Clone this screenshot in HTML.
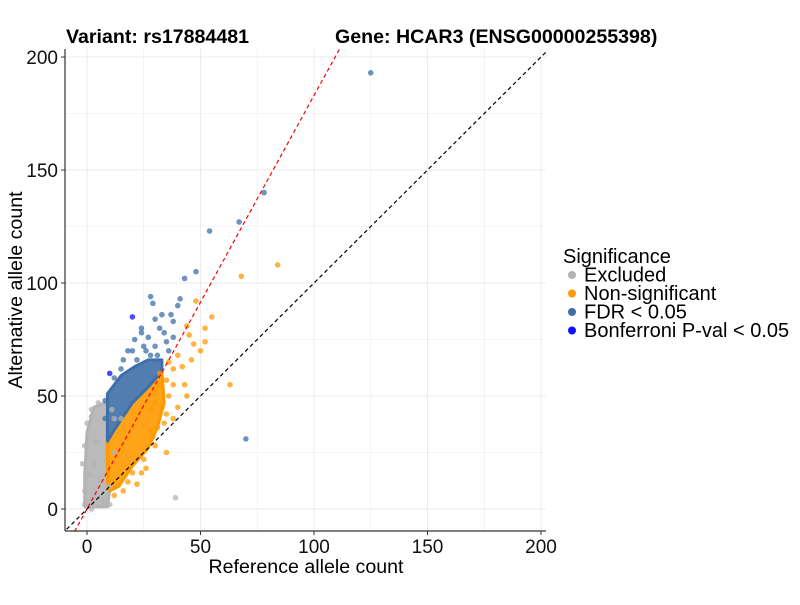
<!DOCTYPE html>
<html><head><meta charset="utf-8"><style>
body{margin:0;background:#fff;font-family:"Liberation Sans",sans-serif}
svg text{font-family:"Liberation Sans",sans-serif}
</style></head><body>
<svg id="c" width="800" height="600" xmlns="http://www.w3.org/2000/svg">
<rect width="800" height="600" fill="#fff"/>
<g id="grid"></g>
<g id="blobs"></g>
<g id="pts"></g>
<g id="lines"></g>
<line x1="65" y1="49" x2="65" y2="531" stroke="#333" stroke-width="1.2"/>
<line x1="65" y1="531" x2="546" y2="531" stroke="#333" stroke-width="1.2"/>
<g id="ticks"></g>
<text x="66" y="43" font-size="19.6" font-weight="bold">Variant: rs17884481</text>
<text x="335" y="43" font-size="19.6" font-weight="bold">Gene: HCAR3 (ENSG00000255398)</text>
<text x="306" y="573" font-size="19.6" text-anchor="middle">Reference allele count</text>
<text transform="translate(22,290) rotate(-90)" font-size="19.6" text-anchor="middle">Alternative allele count</text>
<g>
<text x="563" y="263" font-size="20">Significance</text>
<g id="legend"></g>
</g>
</svg>
<script>
const ticks=[0,50,100,150,200];
const minorTicks=[25,75,125,175];
const gray=[[-1,2],[2,0],[7,4],[8,2],[10,2],[39,5],[15,40],[5,47],[2,44],[12,40],[4,30],[1,15],[3,20],[10,10],[6,12],[-1,8],[0,38],[2,41],[11,44],[12,25],[-2,20],[-1,28]];
const orange=[[84,108],[68,103],[63,55],[55,85],[48,92],[52,74],[52,80],[44,81],[45,77],[47,73],[40,68],[42,63],[38,62],[35,57],[44,50],[30,47],[33,45],[38,40],[35,42],[31,36],[28,35],[29,32],[35,25],[24,16],[20,16],[22,11],[18,12],[26,18],[40,45],[43,55],[46,66],[50,70],[32,60],[36,65],[30,52],[28,44],[36,50],[34,38],[30,28],[25,22],[32,55],[38,55],[16,8],[12,6]];
const blue=[[125,193],[78,140],[67,127],[54,123],[48,105],[43,102],[41,93],[28,94],[37,86],[40,90],[29,91],[32,80],[34,78],[27,76],[24,78],[21,75],[25,72],[30,72],[36,70],[70,31],[38,83],[33,86],[18,70],[15,62],[22,66],[28,68],[12,58],[16,66],[20,70],[26,70],[31,68],[35,74],[38,76],[8,48],[8,40],[24,80],[30,84]];
const bonf=[[20,85],[10,60]];
const grayBlob=[[-1,1],[9,1],[10,8],[9,30],[9,45],[8,47],[3,45],[0,34],[-1,15]];
const blueBlob=[[9,30],[9,51],[15,59],[21,63],[27,66],[33,66],[33,61],[27,54],[20,47],[12,35]];
const orangeBlob=[[10,8],[14,10],[20,19],[27,27],[31,36],[34,47],[33,61],[27,54],[20,47],[12,35],[9,30],[9,12]];
const legendLabels=["Excluded","Non-significant","FDR < 0.05","Bonferroni P-val < 0.05"];
const legendColors=["#b3b3b3","#ff9900","#3e6fa8","#1010ff"];

const X=v=>87+2.27*v, Y=v=>509-2.26*v;
const NS="http://www.w3.org/2000/svg";
function mk(t,a,p){const e=document.createElementNS(NS,t);for(const k in a)e.setAttribute(k,a[k]);p.appendChild(e);return e;}
const g=document.getElementById('grid');
minorTicks.concat(ticks).forEach(t=>{
 let l=mk('line',{x1:X(t),x2:X(t),y1:49,y2:531,stroke:'#ebebeb','stroke-width':minorTicks.includes(t)?0.6:1},g);
 
 
 let m=mk('line',{x1:65,x2:546,y1:Y(t),y2:Y(t),stroke:'#ebebeb','stroke-width':minorTicks.includes(t)?0.6:1},g);
 
 
});
const tk=document.getElementById('ticks');
ticks.forEach(t=>{
 mk('line',{x1:X(t),x2:X(t),y1:531,y2:535,stroke:'#333'},tk);
 let a=mk('text',{x:X(t),y:553,'font-size':19,'text-anchor':'middle',fill:'#111'},tk);a.textContent=t;
 
 
 mk('line',{x1:61,x2:65,y1:Y(t),y2:Y(t),stroke:'#333'},tk);
 let b=mk('text',{x:58,y:Y(t)+7,'font-size':19,'text-anchor':'end',fill:'#111'},tk);b.textContent=t;
 
 
});
const bl=document.getElementById('blobs');
[[grayBlob,'#b3b3b3','excluded-cluster'],[orangeBlob,'#ff9900','nonsig-cluster'],[blueBlob,'#3e6fa8','fdr-cluster']].forEach(([arr,c,n])=>{
 let p=mk('polygon',{points:arr.map(d=>X(d[0])+','+Y(d[1])).join(' '),fill:c,stroke:c,'stroke-width':3,'stroke-linejoin':'round','fill-opacity':0.9},bl);
 
 
});
const pg=document.getElementById('pts');
[[gray,'#b3b3b3','excluded-point'],[orange,'#ff9900','nonsig-point'],[blue,'#3e6fa8','fdr-point'],[bonf,'#1010ff','bonferroni-point']].forEach(([arr,c,n])=>{
 arr.forEach(d=>{let e=mk('circle',{cx:X(d[0]),cy:Y(d[1]),r:2.8,fill:c,'fill-opacity':0.75},pg);
 
 });
});
const lg=document.getElementById('lines');
let r=mk('line',{x1:X(-5.5),y1:Y(-10),x2:X(111.5),y2:Y(204),stroke:'#ff0000','stroke-width':1.2,'stroke-dasharray':'4,3'},lg);


let k=mk('line',{x1:X(-9),y1:Y(-9),x2:X(203),y2:Y(203),stroke:'#000','stroke-width':1.2,'stroke-dasharray':'4,3'},lg);


const le=document.getElementById('legend');
legendLabels.forEach((s,i)=>{
 let y=275+i*18.5;
 let c=mk('circle',{cx:572,cy:y,r:4,fill:legendColors[i]},le);
 
 
 let t=mk('text',{x:584,y:y+6.5,'font-size':20},le);t.textContent=s;
 
 
});
</script>
</body></html>
